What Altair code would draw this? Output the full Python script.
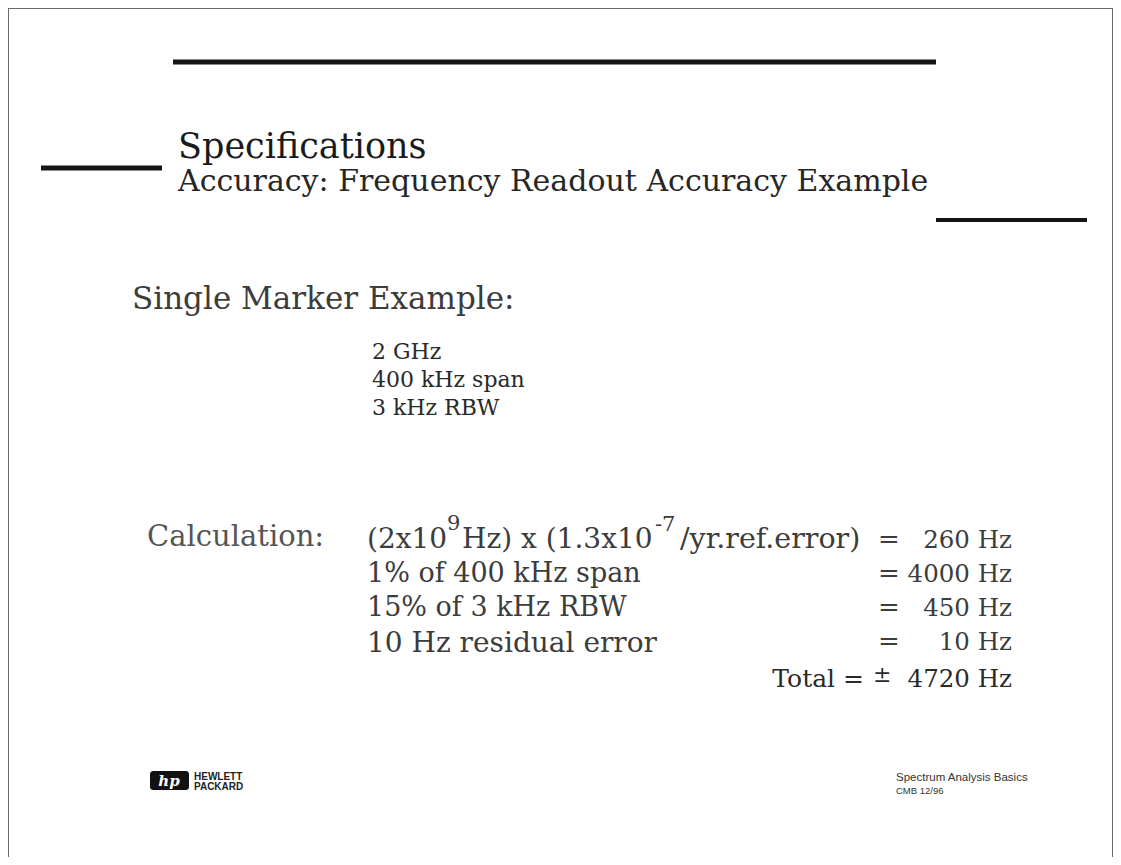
import altair as alt
import pandas as pd

# ---------------- text content ----------------
slide_label = "Slide #22"
title_text = "Specifications"
subtitle_text = "Accuracy: Frequency Readout Accuracy Example"
heading_text = "Single Marker Example:"
settings = ["2 GHz", "400 kHz span", "3 kHz RBW"]
calc_label = "Calculation:"
row1_pieces = ["(2x10", "9", "Hz) x (1.3x10", "-7", "/yr.ref.error)"]
calc_terms = ["1% of 400 kHz span", "15% of 3 kHz RBW", "10 Hz residual error"]
equals = ["=", "=", "=", "="]
results = ["260 Hz", "4000 Hz", "450 Hz", "10 Hz"]
total_label = "Total ="
total_sign = "\u00b1"
total_value = "4720 Hz"
logo_mark = "hp"
logo_words = ["HEWLETT", "PACKARD"]
footer_lines = ["Spectrum Analysis Basics", "CMB   12/96"]

# ---------------- layout (page pixel positions) ----------------
W, H = 1105, 849
XS = alt.Scale(domain=[8, 8 + W], range=[0, W])
YS = alt.Scale(domain=[8, 8 + H], range=[0, H])

SERIF = "DejaVu Serif"
SANS = "Liberation Sans"
BODY = "#3c3c3c"

text_layout = [
    # text, x, y(baseline), size, font, align, color, weight, style
    (slide_label, 0, 6, 22, "Liberation Mono", "left", "#000", "bold", "normal"),
    (title_text, 178, 158, 35, SERIF, "left", "#1a1a1a", "normal", "normal"),
    (subtitle_text, 178, 191, 30, SERIF, "left", "#262626", "normal", "normal"),
    (heading_text, 132, 309, 31, SERIF, "left", BODY, "normal", "normal"),
    (settings[0], 372, 359, 22, SERIF, "left", "#2a2a2a", "normal", "normal"),
    (settings[1], 372, 387, 22, SERIF, "left", "#2a2a2a", "normal", "normal"),
    (settings[2], 372, 415, 22, SERIF, "left", "#2a2a2a", "normal", "normal"),
    (calc_label, 147, 546, 29, SERIF, "left", "#555555", "normal", "normal"),
    (row1_pieces[0], 367, 548, 28, SERIF, "left", BODY, "normal", "normal"),
    (row1_pieces[1], 447, 530, 21, SERIF, "left", BODY, "normal", "normal"),
    (row1_pieces[2], 462, 548, 28, SERIF, "left", BODY, "normal", "normal"),
    (row1_pieces[3], 655, 531, 21, SERIF, "left", BODY, "normal", "normal"),
    (row1_pieces[4], 680, 548, 28.5, SERIF, "left", BODY, "normal", "normal"),
    (calc_terms[0], 367, 582, 27, SERIF, "left", BODY, "normal", "normal"),
    (calc_terms[1], 367, 616, 27, SERIF, "left", BODY, "normal", "normal"),
    (calc_terms[2], 367, 652, 28, SERIF, "left", BODY, "normal", "normal"),
    (equals[0], 878, 548, 26, SERIF, "left", BODY, "normal", "normal"),
    (equals[1], 878, 582, 26, SERIF, "left", BODY, "normal", "normal"),
    (equals[2], 878, 616, 26, SERIF, "left", BODY, "normal", "normal"),
    (equals[3], 878, 650, 26, SERIF, "left", BODY, "normal", "normal"),
    (results[0], 1012, 548, 24.5, SERIF, "right", BODY, "normal", "normal"),
    (results[1], 1012, 582, 24.5, SERIF, "right", BODY, "normal", "normal"),
    (results[2], 1012, 616, 24.5, SERIF, "right", BODY, "normal", "normal"),
    (results[3], 1012, 650, 24.5, SERIF, "right", BODY, "normal", "normal"),
    (total_label, 864, 687, 25, SERIF, "right", "#2a2a2a", "normal", "normal"),
    (total_sign, 873, 682, 22, SERIF, "left", "#2a2a2a", "normal", "normal"),
    (total_value, 1012, 687, 24.5, SERIF, "right", "#2a2a2a", "normal", "normal"),
    (logo_mark, 169, 786, 15, SERIF, "center", "#ffffff", "bold", "italic"),
    (logo_words[0], 194, 780, 10, SANS, "left", "#222222", "bold", "normal"),
    (logo_words[1], 194, 790, 10, SANS, "left", "#222222", "bold", "normal"),
    (footer_lines[0], 896, 781, 11.5, SANS, "left", "#333333", "normal", "normal"),
    (footer_lines[1], 896, 794, 9.5, SANS, "left", "#333333", "normal", "normal"),
]

# rules: x, x2, y, thickness, color
rule_layout = [
    (173, 936, 62, 5, "#141414"),
    (41, 162, 168, 5, "#141414"),
    (936, 1087, 220, 4, "#141414"),
    (8, 8 + W, 8.5, 1, "#6a6a6a"),
]
vrule_layout = [
    (8.5, 8, 8 + H, 1, "#6a6a6a"),
    (8 + W - 0.5, 8, 8 + H, 1, "#6a6a6a"),
]

layers = []

for x1, x2, y, sw, col in rule_layout:
    df = pd.DataFrame({"x": [x1], "x2": [x2], "y": [y]})
    layers.append(
        alt.Chart(df).mark_rule(strokeWidth=sw, color=col).encode(
            x=alt.X("x:Q", scale=XS, axis=None),
            x2="x2:Q",
            y=alt.Y("y:Q", scale=YS, axis=None),
        )
    )
for x, y1, y2, sw, col in vrule_layout:
    df = pd.DataFrame({"x": [x], "y": [y1], "y2": [y2]})
    layers.append(
        alt.Chart(df).mark_rule(strokeWidth=sw, color=col).encode(
            x=alt.X("x:Q", scale=XS, axis=None),
            y=alt.Y("y:Q", scale=YS, axis=None),
            y2="y2:Q",
        )
    )

# HP logo box
logo_box = pd.DataFrame({"x": [150], "x2": [189], "y": [771], "y2": [790]})
layers.append(
    alt.Chart(logo_box).mark_rect(color="#111111", cornerRadius=3).encode(
        x=alt.X("x:Q", scale=XS, axis=None),
        x2="x2:Q",
        y=alt.Y("y:Q", scale=YS, axis=None),
        y2="y2:Q",
    )
)

for txt, x, y, size, font, align, col, weight, style in text_layout:
    df = pd.DataFrame({"t": [txt], "x": [x], "y": [y]})
    layers.append(
        alt.Chart(df).mark_text(
            font=font, fontSize=size, align=align, baseline="alphabetic",
            color=col, fontWeight=weight, fontStyle=style,
        ).encode(
            x=alt.X("x:Q", scale=XS, axis=None),
            y=alt.Y("y:Q", scale=YS, axis=None),
            text="t:N",
        )
    )

chart = (
    alt.layer(*layers)
    .properties(width=W, height=H, padding=0, autosize=alt.AutoSizeParams(type="none"))
    .configure_view(stroke=None)
    .configure(background="white")
)

chart.save("out.html", embed_options={"renderer": "svg", "actions": False})
